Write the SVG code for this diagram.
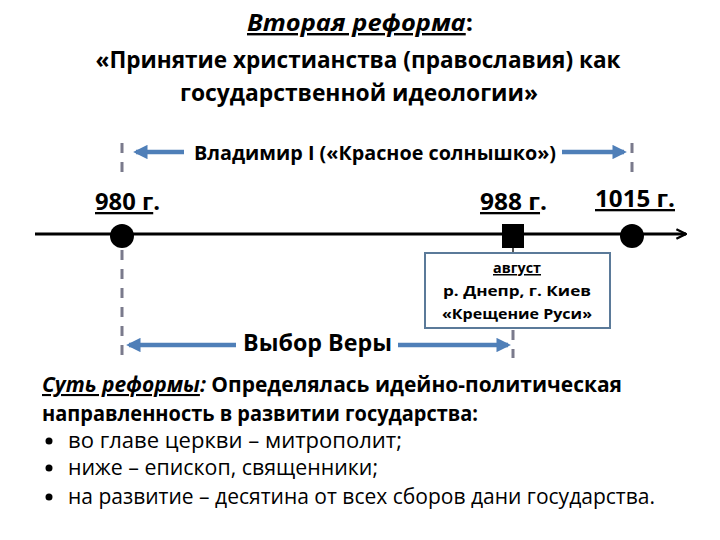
<svg xmlns="http://www.w3.org/2000/svg" width="720" height="540" viewBox="0 0 720 540">
<style>
text{font-family:"Open Sans","Noto Sans","Liberation Sans",sans-serif;fill:#000}
.b{font-weight:bold}
.u{text-decoration:underline}
.i{font-style:italic}
.dash{stroke:#7a7a8c;stroke-width:3;stroke-dasharray:10,9;fill:none}
.blue{stroke:#4f7fb8;stroke-width:4.5;fill:none}
</style>
<defs>
<marker id="bh" viewBox="0 0 10 10" refX="8" refY="5" markerWidth="3.2" markerHeight="3.2" orient="auto-start-reverse">
<path d="M0,0 L10,5 L0,10 z" fill="#4f7fb8"/>
</marker>
<marker id="th" viewBox="0 0 10 10" refX="9" refY="5" markerWidth="4" markerHeight="4" orient="auto">
<path d="M1,1 L9,5 L1,9" fill="none" stroke="#000" stroke-width="2"/>
</marker>
</defs>
<rect width="720" height="540" fill="#fff"/>
<g id="title">
<text x="360" y="31" text-anchor="middle" font-size="24" class="b" textLength="226" lengthAdjust="spacingAndGlyphs"><tspan class="i u">Вторая реформа</tspan>:</text>
<text x="358" y="68" text-anchor="middle" font-size="24" class="b" textLength="525" lengthAdjust="spacingAndGlyphs">«Принятие христианства (православия) как</text>
<text x="359" y="101" text-anchor="middle" font-size="24" class="b" textLength="358" lengthAdjust="spacingAndGlyphs">государственной идеологии»</text>
</g>
<g id="connectors">
<line class="dash" x1="122" y1="143" x2="122" y2="178"/>
<line class="dash" x1="632" y1="143" x2="632" y2="178"/>
<line class="dash" x1="122" y1="250" x2="122" y2="358"/>
<line class="dash" x1="513" y1="330" x2="513" y2="358" stroke-dasharray="6,8"/>
<line x1="513" y1="246" x2="513" y2="254" stroke="#555" stroke-width="2"/>
<line class="blue" x1="184" y1="152" x2="136" y2="152" marker-end="url(#bh)"/>
<line class="blue" x1="562" y1="152" x2="624" y2="152" marker-end="url(#bh)"/>
<line class="blue" x1="236" y1="345" x2="129" y2="345" marker-end="url(#bh)"/>
<line class="blue" x1="398" y1="345" x2="508" y2="345" marker-end="url(#bh)"/>
<line x1="35" y1="234" x2="686" y2="234" stroke="#000" stroke-width="3" marker-end="url(#th)"/>
</g>
<g id="vladimir">
<text x="375" y="160" text-anchor="middle" font-size="19" class="b" fill="#111" textLength="362" lengthAdjust="spacingAndGlyphs">Владимир I («Красное солнышко»)</text>
</g>
<g id="d980">
<circle cx="122" cy="236" r="12" fill="#000"/>
<text x="95" y="210" font-size="23" class="b" textLength="65" lengthAdjust="spacingAndGlyphs"><tspan class="u">980 г</tspan>.</text>
</g>
<g id="d988">
<rect x="502" y="224" width="22" height="24" fill="#000"/>
<text x="480" y="210" font-size="23" class="b" textLength="67" lengthAdjust="spacingAndGlyphs"><tspan class="u">988 г</tspan>.</text>
</g>
<g id="d1015">
<circle cx="632" cy="236" r="12" fill="#000"/>
<text x="595" y="207" font-size="23" class="b u" textLength="80" lengthAdjust="spacingAndGlyphs">1015 г.</text>
</g>
<g id="box">
<rect x="425" y="253" width="185" height="75" fill="#fff" stroke="#5b7a99" stroke-width="2"/>
<text x="517" y="273" text-anchor="middle" font-size="15" class="b u" textLength="48" lengthAdjust="spacingAndGlyphs">август</text>
<text x="517" y="296" text-anchor="middle" font-size="15" class="b" textLength="148" lengthAdjust="spacingAndGlyphs">р. Днепр, г. Киев</text>
<text x="517" y="319" text-anchor="middle" font-size="15" class="b" textLength="150" lengthAdjust="spacingAndGlyphs">«Крещение Руси»</text>
</g>
<g id="vybor">
<text x="243" y="351" font-size="23" class="b" fill="#2b2b40" textLength="149" lengthAdjust="spacingAndGlyphs">Выбор Веры</text>
</g>
<g id="essence">
<text x="42" y="392" font-size="21" class="b" textLength="580" lengthAdjust="spacingAndGlyphs"><tspan class="i u">Суть реформы</tspan><tspan class="i">:</tspan> Определялась идейно-политическая</text>
<text x="42" y="421" font-size="21" class="b" textLength="436" lengthAdjust="spacingAndGlyphs">направленность в развитии государства:</text>
<circle cx="49" cy="441" r="3.5" fill="#000"/>
<text x="68" y="448" font-size="21" textLength="334" lengthAdjust="spacingAndGlyphs">во главе церкви – митрополит;</text>
<circle cx="49" cy="468" r="3.5" fill="#000"/>
<text x="68" y="475" font-size="21" textLength="310" lengthAdjust="spacingAndGlyphs">ниже – епископ, священники;</text>
<circle cx="49" cy="497" r="3.5" fill="#000"/>
<text x="68" y="504" font-size="21" textLength="587" lengthAdjust="spacingAndGlyphs">на развитие – десятина от всех сборов дани государства.</text>
</g>
</svg>
